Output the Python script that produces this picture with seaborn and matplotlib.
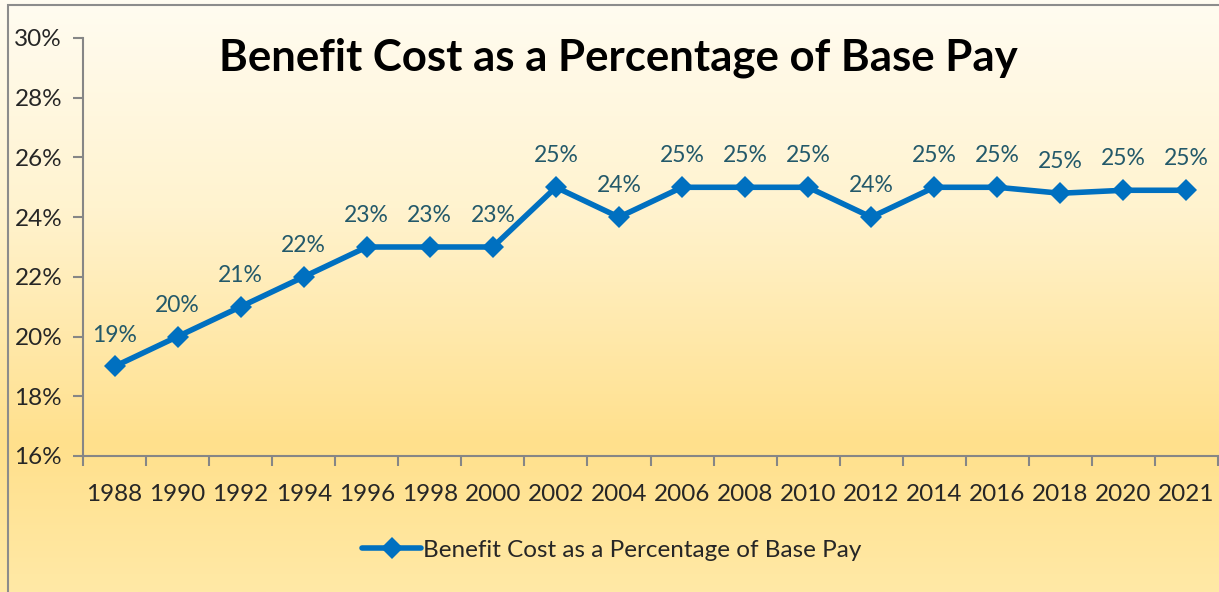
import numpy as np
import pandas as pd
import seaborn as sns
import matplotlib.pyplot as plt
from matplotlib.colors import LinearSegmentedColormap
from matplotlib.patches import Rectangle

years = ['1988', '1990', '1992', '1994', '1996', '1998', '2000', '2002', '2004',
         '2006', '2008', '2010', '2012', '2014', '2016', '2018', '2020', '2021']
benefit_pct = [19, 20, 21, 22, 23, 23, 23, 25, 24, 25, 25, 25, 24, 25, 25, 24.8, 24.9, 24.9]
series_name = 'Benefit Cost as a Percentage of Base Pay'

df = pd.DataFrame({'year': years, 'pct': benefit_pct})
df['pos'] = np.arange(len(df))

sns.set_style('white')
plt.rcParams['font.family'] = ['Lato', 'DejaVu Sans']

fig = plt.figure(figsize=(12.19, 5.92), dpi=100)

# gradient background
bg = fig.add_axes([0, 0, 1, 1], zorder=0)
cmap = LinearSegmentedColormap.from_list(
    'bg', [(0, '#FFFCF1'), (0.35, '#FFF3CF'), (0.75, '#FFE08C'), (1, '#FFE9A6')])
grad = np.linspace(0, 1, 256).reshape(-1, 1)
bg.imshow(grad, aspect='auto', cmap=cmap, extent=[0, 1, 0, 1], origin='upper')
bg.set_axis_off()
fig.add_artist(Rectangle((8 / 1219, -0.02), 1.1, 1 - 5 / 592 + 0.02,
                         transform=fig.transFigure, fill=False,
                         edgecolor='#8C8C8C', linewidth=1.5, zorder=1))

ax = fig.add_axes([83 / 1219, 136 / 592, 1135 / 1219, 418 / 592], zorder=2)
ax.patch.set_alpha(0)

sns.lineplot(data=df, x='pos', y='pct', ax=ax, color='#0070C0', linewidth=4,
             marker='D', markersize=11, markeredgewidth=0, label=series_name,
             legend=False)

for x, y in zip(df['pos'], df['pct']):
    ax.annotate(f'{y:.0f}%', (x, y), xytext=(0, 15), textcoords='offset points',
                ha='center', va='bottom', fontsize=16.5, color='#23596A')

ax.set_xlim(-0.5, len(years) - 0.5)
ax.set_ylim(16, 30)
ax.set_yticks(range(16, 31, 2))
ax.set_yticklabels([f'{v}%' for v in range(16, 31, 2)], fontsize=17.5)
ax.set_xticks(df['pos'])
ax.set_xticklabels(years, fontsize=17.5)
ax.set_xticks(np.arange(-0.5, len(years), 1), minor=True)
ax.tick_params(axis='x', which='major', bottom=True, length=0, pad=20)
ax.tick_params(axis='x', which='minor', bottom=True, length=7, color='#868686',
               width=1.5, direction='out')
ax.tick_params(axis='y', left=True, length=7, color='#868686', width=1.5,
               direction='out', pad=8)
ax.set_xlabel('')
ax.set_ylabel('')
for side in ['top', 'right']:
    ax.spines[side].set_visible(False)
for side in ['left', 'bottom']:
    ax.spines[side].set_color('#868686')
    ax.spines[side].set_linewidth(1.5)

fig.text(618 / 1219, 1 - 58 / 592, series_name, ha='center', va='center',
         fontsize=31.5, fontweight='bold', color='black')

handles, labels = ax.get_legend_handles_labels()
fig.legend(handles, labels, loc='center', bbox_to_anchor=(612 / 1219, 1 - 550 / 592),
           frameon=False, fontsize=17.5, handlelength=2.4, handletextpad=0.1)

fig.savefig('out.png', dpi=100)
